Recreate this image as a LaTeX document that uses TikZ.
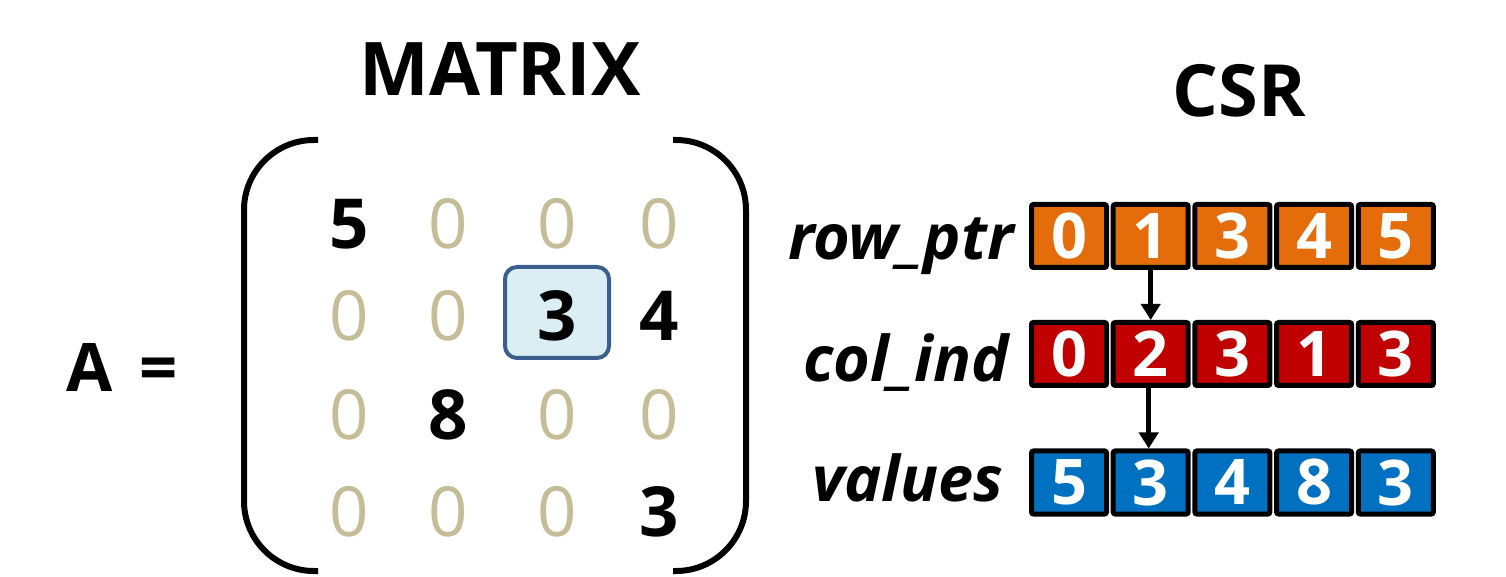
\documentclass[tikz,border=0pt]{standalone}
\usepackage{fontspec}
\setmainfont{Open Sans}
\usetikzlibrary{arrows.meta}
\definecolor{csrorange}{HTML}{E46C0A}
\definecolor{csrred}{HTML}{C00000}
\definecolor{csrblue}{HTML}{0070C0}
\definecolor{zerotan}{HTML}{C4BD97}
\definecolor{hlfill}{HTML}{DAEEF3}
\definecolor{hledge}{HTML}{3B5F8C}
\newcommand{\fsz}[1]{\fontsize{#1}{#1}\selectfont}
\tikzset{
  title/.style={inner sep=0pt, anchor=base, font=\fsz{37}\bfseries},
  nz/.style={inner sep=0pt, anchor=base, font=\fsz{34.5}\bfseries},
  zr/.style={inner sep=0pt, anchor=base, font=\fsz{34.5}, text=zerotan},
  bracket/.style={line width=3pt, rounded corners=35pt},
  cell/.style={draw=black, line width=2.5pt, rounded corners=1pt,
    minimum width=37.5pt, minimum height=31.5pt, inner sep=0pt,
    text=white, font=\fsz{31.5}\bfseries},
  arrname/.style={inner sep=0pt, anchor=base east, font=\fsz{31.5}\bfseries\itshape},
  link/.style={line width=2.5pt, -{Triangle[width=9.5pt,length=8pt]}}
}
\begin{document}
\begin{tikzpicture}[x=0.5pt,y=-0.5pt]
\useasboundingbox (0,0) rectangle (1506,577);

% headings
\node[title] (tmat) at (500,96) {MATRIX};
\node[title, font=\fsz{36}\bfseries] (tcsr) at (1239,117) {CSR};

% left-hand side
\node[inner sep=0pt, anchor=base west, font=\fsz{33.5}\bfseries] (aeq) at (66,392) {A\hspace{13.5pt}=};

% highlighted entry
\draw[line width=2pt, draw=hledge, fill=hlfill, rounded corners=6pt] (505,267) rectangle (609,358);

% brackets
\draw[bracket] (318,140) -- (244,140) -- (244,571) -- (318,571);
\draw[bracket] (673,140) -- (746,140) -- (746,571) -- (673,571);

% matrix entries
\node[nz] (m11) at (349,249) {5};
\node[zr] (m12) at (448,249) {0};
\node[zr] (m13) at (557,249) {0};
\node[zr] (m14) at (659,249) {0};
\node[zr] (m21) at (349,341) {0};
\node[zr] (m22) at (448,341) {0};
\node[nz] (m23) at (557,341) {3};
\node[nz] (m24) at (659,341) {4};
\node[zr] (m31) at (349,440) {0};
\node[nz] (m32) at (448,440) {8};
\node[zr] (m33) at (557,440) {0};
\node[zr] (m34) at (659,440) {0};
\node[zr] (m41) at (349,536) {0};
\node[zr] (m42) at (448,536) {0};
\node[zr] (m43) at (557,536) {0};
\node[nz] (m44) at (659,536) {3};

% array names
\node[arrname] (lrow) at (1014,260) {row\_ptr};
\node[arrname] (lcol) at (1009,382) {col\_ind};
\node[arrname] (lval) at (1004,502) {values};

% arrays
\foreach \v [count=\i from 0] in {0,1,3,4,5}
  \node[cell, fill=csrorange] (r\i) at (1069+81.7*\i,236) {\v};
\foreach \v [count=\i from 0] in {0,2,3,1,3}
  \node[cell, fill=csrred] (c\i) at (1069+81.7*\i,354) {\v};
\foreach \v [count=\i from 0] in {5,3,4,8,3}
  \node[cell, fill=csrblue] (v\i) at (1069+81.7*\i,482.5) {\v};

% links
\draw[link] (r1.south) -- (c1.north);
\draw[link] ([xshift=-1pt]c1.south) -- ([xshift=-1pt]v1.north);
\end{tikzpicture}
\end{document}
